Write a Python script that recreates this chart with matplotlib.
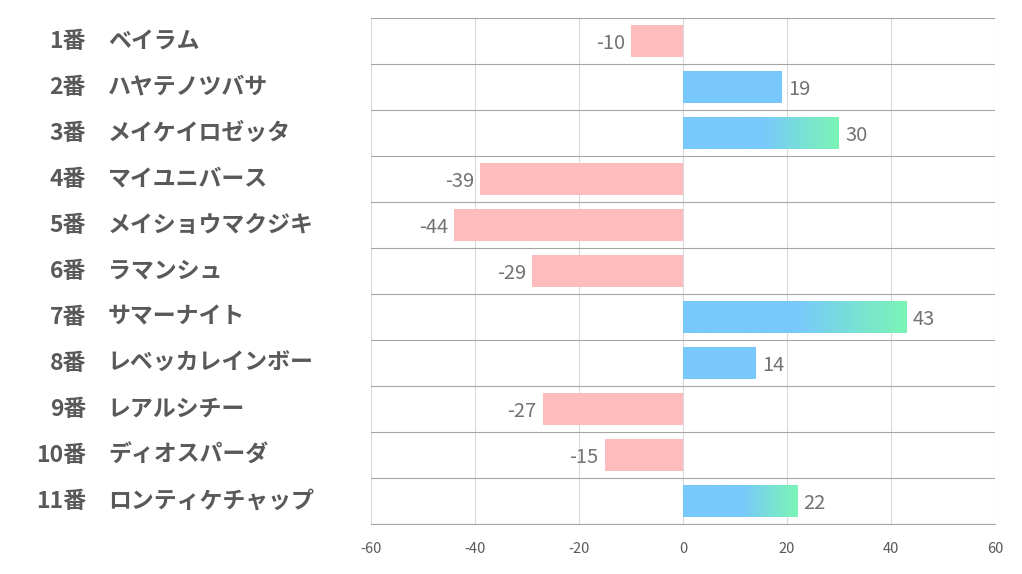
import matplotlib.pyplot as plt
import numpy as np
from matplotlib.colors import LinearSegmentedColormap

plt.rcParams['font.family'] = ['Noto Sans CJK JP', 'DejaVu Sans']

# データ
numbers = ['1番', '2番', '3番', '4番', '5番', '6番', '7番', '8番', '9番', '10番', '11番']
names = ['ベイラム', 'ハヤテノツバサ', 'メイケイロゼッタ', 'マイユニバース', 'メイショウマクジキ',
         'ラマンシュ', 'サマーナイト', 'レベッカレインボー', 'レアルシチー', 'ディオスパーダ',
         'ロンティケチャップ']
values = [-10, 19, 30, -39, -44, -29, 43, 14, -27, -15, 22]
xticks = [-60, -40, -20, 0, 20, 40, 60]

blue = '#78c8fd'
green = '#7af5b5'
pink = '#ffbcbc'
cmap = LinearSegmentedColormap.from_list('bg', [blue, blue, green])

fig = plt.figure(figsize=(10.22, 5.74), dpi=100)
ax = fig.add_axes([371 / 1022, 1 - 524 / 574, (995 - 371) / 1022, (524 - 18) / 574])

n = len(values)
ax.set_xlim(-60, 60)
ax.set_ylim(n - 0.5, -0.5)

for x in xticks:
    ax.axvline(x, color='#d9d9d9', lw=0.8, zorder=0)
for k in range(n + 1):
    ax.axhline(k - 0.5, color='#a6a6a6', lw=0.8, zorder=0)

h = 0.68
for i, v in enumerate(values):
    if v < 0:
        ax.barh(i, v, height=h, color=pink, zorder=2)
        ax.text(v - 1.2, i + 0.05, str(v), ha='right', va='center', fontsize=14.5, color='#737373')
    else:
        bar = ax.barh(i, v, height=h, color=blue, zorder=2)[0]
        if v >= 20:
            # 20以上のバーはグラデーション
            grad = np.linspace(0, 1, 256).reshape(1, -1)
            im = ax.imshow(grad, cmap=cmap, aspect='auto', extent=[0, v, i + h / 2, i - h / 2],
                           zorder=3)
            im.set_clip_path(bar)
        ax.text(v + 1.2, i + 0.05, str(v), ha='left', va='center', fontsize=14.5, color='#737373')

ax.set_xlim(-60, 60)
ax.set_ylim(n - 0.5, -0.5)
ax.set_xticks(xticks)
ax.set_xticklabels([str(t) for t in xticks], fontsize=10.5, color='#595959')
ax.tick_params(axis='x', length=0, pad=13)
ax.set_yticks([])
for s in ['top', 'right', 'left']:
    ax.spines[s].set_visible(False)
ax.spines['bottom'].set_color('#a6a6a6')

# 左側のラベル
for i in range(n):
    y = ax.transData.transform((0, i))[1]
    yf = y / fig.bbox.height
    fig.text(86 / 1022, yf, numbers[i], ha='right', va='center', fontsize=16.5,
             fontweight='bold', color='#595959')
    fig.text(108 / 1022, yf, names[i], ha='left', va='center', fontsize=16.5,
             fontweight='bold', color='#595959', fontstretch='expanded')

fig.savefig('out.png', dpi=100)
